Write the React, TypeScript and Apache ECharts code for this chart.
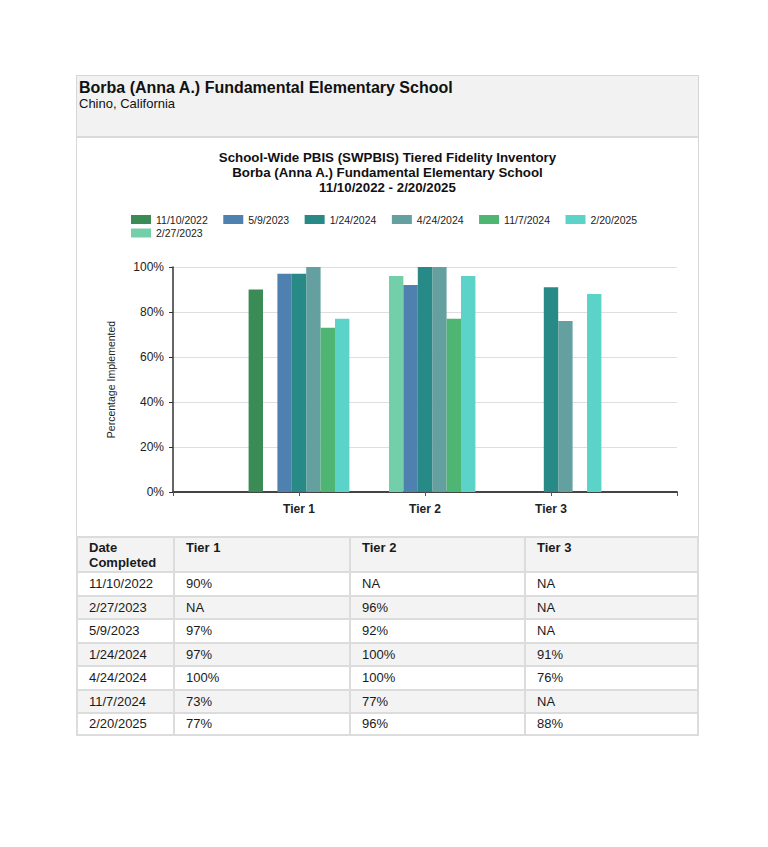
import React, { useEffect, useRef } from "react";
import * as echarts from "echarts";

const schoolName = "Borba (Anna A.) Fundamental Elementary School";
const location = "Chino, California";
const chartTitleLines = [
  "School-Wide PBIS (SWPBIS) Tiered Fidelity Inventory",
  "Borba (Anna A.) Fundamental Elementary School",
  "11/10/2022 - 2/20/2025",
];
const tiers = ["Tier 1", "Tier 2", "Tier 3"];
const dates = ["11/10/2022", "2/27/2023", "5/9/2023", "1/24/2024", "4/24/2024", "11/7/2024", "2/20/2025"];
const tier1 = [90, null, 97, 97, 100, 73, 77];
const tier2 = [null, 96, 92, 100, 100, 77, 96];
const tier3 = [null, null, null, 91, 76, null, 88];
const dateColors = ["#3b8b56", "#72cfaa", "#4f81b0", "#278a87", "#65a0a0", "#4eb572", "#5cd3c8"];
const legendRow1 = ["11/10/2022", "5/9/2023", "1/24/2024", "4/24/2024", "11/7/2024", "2/20/2025"];
const legendRow2 = ["2/27/2023"];
const yTicks = [0, 20, 40, 60, 80, 100];

const FONT = 'Arial, "Liberation Sans", sans-serif';
const colEdges = [76, 173, 349, 524, 699];
const rowEdges = [536, 571, 594.5, 618, 641.5, 665, 688.5, 712, 735.5];

export default function App() {
  const ref = useRef<HTMLDivElement>(null);
  useEffect(() => {
    if (!ref.current) return;
    const chart = echarts.init(ref.current, undefined, { renderer: "svg" });
    const tierSeries = [tier1, tier2, tier3];
    const series = dates.map((d, i) => ({
      name: d,
      type: "bar",
      barWidth: 14.4,
      barGap: "0%",
      itemStyle: { color: dateColors[i] },
      data: ["-", ...tierSeries.map((t) => (t[i] == null ? "-" : t[i])), "-"],
    }));
    const legendBase = {
      icon: "rect",
      itemWidth: 20,
      itemHeight: 9,
      itemGap: 15.5,
      padding: 0,
      orient: "horizontal",
      textStyle: { fontSize: 10.5, color: "#222", fontFamily: FONT },
    };
    chart.setOption({
      animation: false,
      textStyle: { fontFamily: FONT },
      title: {
        text: chartTitleLines.join("\n"),
        left: 387.5,
        textAlign: "center",
        top: 149.5,
        padding: 0,
        textStyle: { fontSize: 13.3, fontWeight: "bold", lineHeight: 15, color: "#111", fontFamily: FONT },
      },
      legend: [
        { ...legendBase, data: legendRow1, left: 131, top: 214 },
        { ...legendBase, data: legendRow2, left: 131, top: 227.5 },
      ],
      grid: { left: 173, right: 91, top: 267, bottom: 355, containLabel: false },
      xAxis: {
        type: "category",
        boundaryGap: false,
        data: ["", ...tiers, ""],
        axisLine: { lineStyle: { color: "#444", width: 2 } },
        axisTick: { show: true, length: 4, lineStyle: { color: "#555" } },
        axisLabel: { fontSize: 12, fontWeight: "bold", color: "#222", margin: 11, fontFamily: FONT },
        splitLine: { show: false },
      },
      yAxis: {
        type: "value",
        min: yTicks[0],
        max: yTicks[yTicks.length - 1],
        interval: 20,
        name: "Percentage Implemented",
        nameLocation: "middle",
        nameGap: 57,
        nameTextStyle: { fontSize: 10.5, color: "#222", fontFamily: FONT },
        axisLine: { show: true, lineStyle: { color: "#333", width: 1.5 } },
        axisTick: { show: true, length: 4, lineStyle: { color: "#333" } },
        axisLabel: { formatter: "{value}%", fontSize: 12, color: "#222", margin: 9, fontFamily: FONT },
        splitLine: { lineStyle: { color: "#dedede" } },
      },
      series,
    });
    return () => chart.dispose();
  }, []);

  const rows = dates.map((d, i) => [
    d,
    tier1[i] == null ? "NA" : `${tier1[i]}%`,
    tier2[i] == null ? "NA" : `${tier2[i]}%`,
    tier3[i] == null ? "NA" : `${tier3[i]}%`,
  ]);
  const headers = ["Date Completed", ...tiers];
  const border = "2px solid #dcdcdc";

  const cells: React.ReactNode[] = [];
  [headers, ...rows].forEach((row, r) => {
    row.forEach((txt, c) => {
      const isHeader = r === 0;
      const gray = isHeader || r % 2 === 0;
      cells.push(
        <div
          key={`${r}-${c}`}
          style={{
            position: "absolute",
            left: colEdges[c],
            top: rowEdges[r],
            width: colEdges[c + 1] - colEdges[c],
            height: rowEdges[r + 1] - rowEdges[r],
            boxSizing: "border-box",
            borderLeft: border,
            borderTop: border,
            borderRight: c === 3 ? border : undefined,
            borderBottom: r === rows.length ? border : undefined,
            background: gray ? "#f3f3f3" : "#ffffff",
            paddingLeft: 11,
            paddingTop: isHeader ? 2 : 0,
            display: "flex",
            alignItems: isHeader ? "flex-start" : "center",
            fontFamily: FONT,
            fontSize: 13,
            lineHeight: "15px",
            fontWeight: isHeader ? "bold" : "normal",
            color: "#1a1a1a",
          }}
        >
          <div style={{ width: isHeader && c === 0 ? 70 : undefined }}>{txt}</div>
        </div>
      );
    });
  });

  return (
    <div style={{ position: "absolute", left: 0, top: 0, width: 768, height: 847, background: "#fff" }}>
      <div ref={ref} style={{ position: "absolute", left: 0, top: 0, width: 768, height: 847 }} />
      <div
        style={{
          position: "absolute",
          left: 76,
          top: 75,
          width: 623,
          height: 63,
          boxSizing: "border-box",
          background: "#f2f2f2",
          border: "1px solid #d6d6d6",
          borderBottom: "2px solid #dadada",
          padding: "3px 2px 0 2px",
          fontFamily: FONT,
          color: "#111",
        }}
      >
        <div style={{ fontSize: 16, fontWeight: "bold", lineHeight: "18px" }}>{schoolName}</div>
        <div style={{ fontSize: 13, lineHeight: "14px" }}>{location}</div>
      </div>
      <div
        style={{
          position: "absolute",
          left: 76,
          top: 138,
          width: 623,
          height: 398,
          boxSizing: "border-box",
          borderLeft: "1px solid #d6d6d6",
          borderRight: "1px solid #d6d6d6",
          pointerEvents: "none",
        }}
      />
      {cells}
    </div>
  );
}
